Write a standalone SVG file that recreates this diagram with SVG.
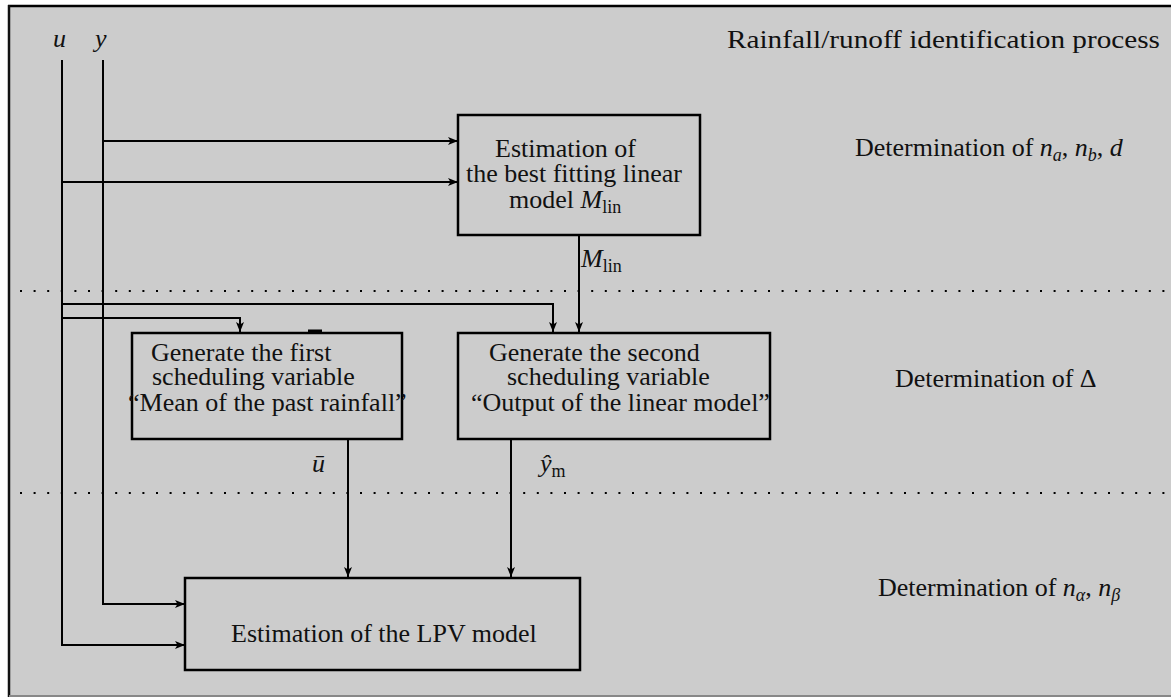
<svg xmlns="http://www.w3.org/2000/svg" width="1171" height="697" viewBox="0 0 1171 697">
<defs>
<marker id="ah" viewBox="0 0 10 8" refX="10" refY="4" markerWidth="10" markerHeight="8" markerUnits="userSpaceOnUse" orient="auto">
<path d="M0,0 L10,4 L0,8 L2.5,4 z" fill="#000"/>
</marker>
</defs>
<style>
text { font-family: "Liberation Serif", "Times New Roman", serif; font-size: 26px; fill: #111; }
.m { font-style: italic; }
.sub { font-size: 18px; }
.box { fill: none; stroke: #000; stroke-width: 2.5; }
.ln { fill: none; stroke: #000; stroke-width: 2; }
.arr { fill: none; stroke: #000; stroke-width: 2; marker-end: url(#ah); }
.dot { fill: none; stroke: #000; stroke-width: 2; stroke-dasharray: 2 11.6; }
</style>
<rect x="0" y="0" width="1171" height="697" fill="#ffffff"/>
<rect x="9" y="6" width="1162" height="690" fill="#cccccc"/>
<line x1="8" y1="6" x2="1171" y2="6" stroke="#000" stroke-width="2.5"/>
<line x1="9" y1="5" x2="9" y2="697" stroke="#111" stroke-width="2.5"/>
<line x1="9" y1="696" x2="1171" y2="696" stroke="#888" stroke-width="2"/>

<g id="separators">
<line class="dot" x1="20" y1="291" x2="1171" y2="291"/>
<line class="dot" x1="20" y1="493" x2="1171" y2="493"/>
</g>

<g id="connectors">
<polyline class="arr" points="103,60 103,604 185,604"/>
<line class="arr" x1="103" y1="141" x2="458" y2="141"/>
<polyline class="arr" points="62,60 62,645 185,645"/>
<line class="arr" x1="62" y1="182" x2="458" y2="182"/>
<polyline class="arr" points="62,304 553,304 553,332"/>
<polyline class="arr" points="62,318 240,318 240,332"/>
<line class="arr" x1="579" y1="235" x2="579" y2="332"/>
<line class="arr" x1="348" y1="439" x2="348" y2="577"/>
<line class="arr" x1="511" y1="439" x2="511" y2="577"/>
<rect x="308" y="329.5" width="14" height="2.5" fill="#000"/>
</g>

<g id="inputs">
<text x="53" y="47" class="m">u</text>
<text x="95" y="47" class="m">y</text>
</g>

<g id="title">
<text x="727" y="48" textLength="433" lengthAdjust="spacingAndGlyphs">Rainfall/runoff identification process</text>
</g>

<g id="box-linear">
<rect class="box" x="458" y="115" width="242" height="120"/>
<text x="495" y="157">Estimation of</text>
<text x="466" y="182">the best fitting linear</text>
<text x="509" y="208">model <tspan class="m">M</tspan><tspan class="sub" dy="5">lin</tspan></text>
<text x="581" y="267"><tspan class="m">M</tspan><tspan class="sub" dy="5">lin</tspan></text>
</g>

<g id="box-first">
<rect class="box" x="132" y="333" width="270" height="106"/>
<text x="151" y="361">Generate the first</text>
<text x="152" y="385">scheduling variable</text>
<text x="128" y="411">“Mean of the past rainfall”</text>
<text x="312" y="472" class="m">ū</text>
</g>

<g id="box-second">
<rect class="box" x="458" y="333" width="312" height="106"/>
<text x="489" y="361">Generate the second</text>
<text x="507" y="385">scheduling variable</text>
<text x="471" y="411">“Output of the linear model”</text>
<text x="540" y="472"><tspan class="m">ŷ</tspan><tspan class="sub" dy="5">m</tspan></text>
</g>

<g id="box-lpv">
<rect class="box" x="185" y="578" width="395" height="92"/>
<text x="231" y="642">Estimation of the LPV model</text>
</g>

<g id="labels">
<text x="855" y="156">Determination of <tspan class="m">n</tspan><tspan class="sub m" dy="5">a</tspan><tspan dy="-5">, </tspan><tspan class="m">n</tspan><tspan class="sub m" dy="5">b</tspan><tspan dy="-5">, </tspan><tspan class="m">d</tspan></text>
<text x="895" y="387">Determination of Δ</text>
<text x="878" y="596">Determination of <tspan class="m">n</tspan><tspan class="sub m" dy="5">α</tspan><tspan dy="-5">, </tspan><tspan class="m">n</tspan><tspan class="sub m" dy="5">β</tspan></text>
</g>
</svg>
